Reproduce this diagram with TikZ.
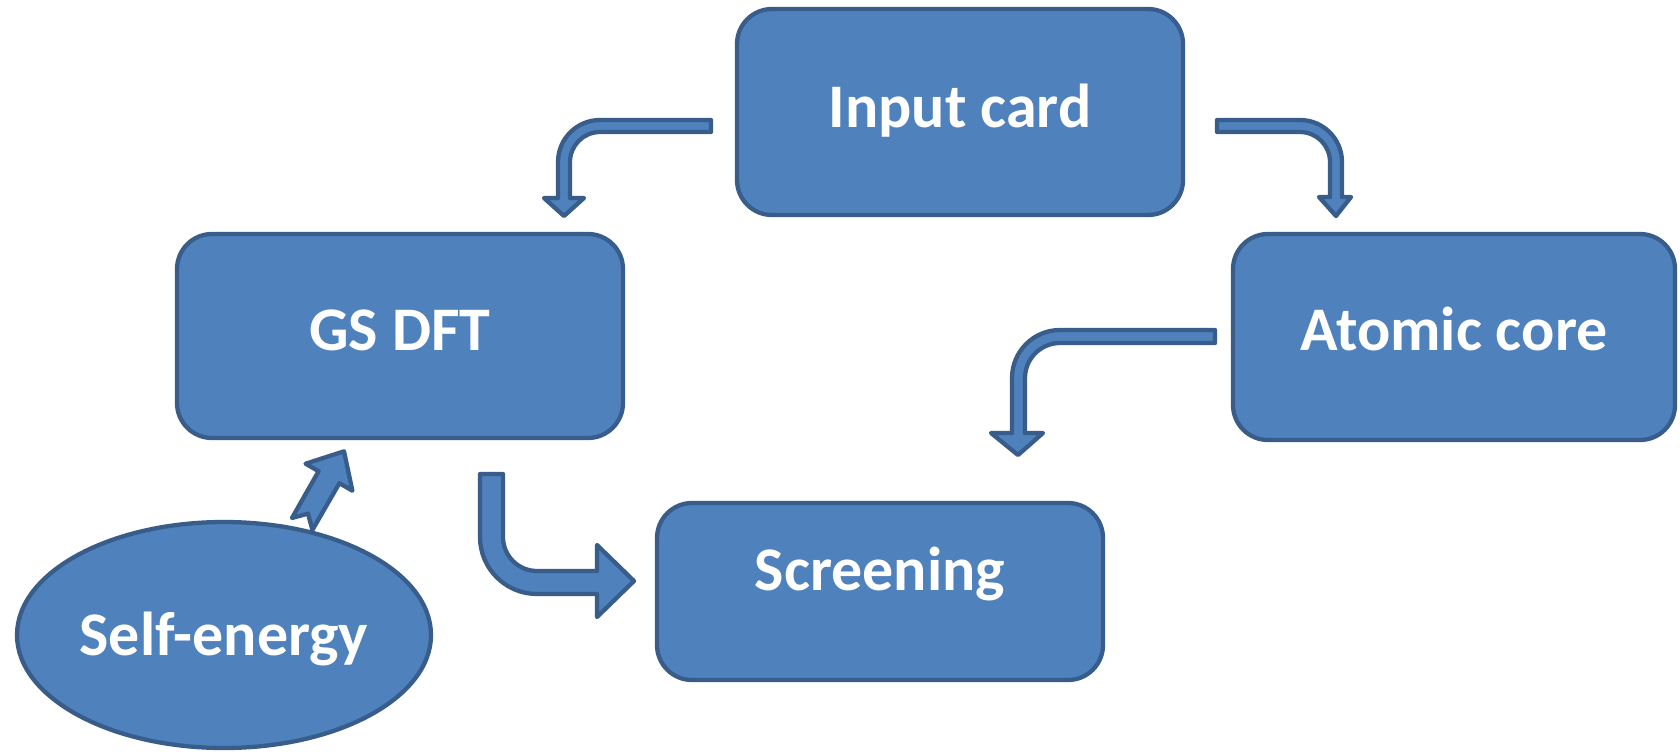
\documentclass[tikz,border=0pt]{standalone}
\usepackage{fontspec}
\setmainfont{Carlito}
\usetikzlibrary{shapes.geometric}
\definecolor{pfill}{HTML}{4F81BD}
\definecolor{pline}{HTML}{385D8A}
\tikzset{
  box/.style={draw=pline, fill=pfill, line width=4.3pt, rounded corners=35pt, inner sep=0pt},
  oval/.style={ellipse, draw=pline, fill=pfill, line width=4.3pt, inner sep=0pt},
  blockarrow/.style={draw=pline, fill=pfill, line width=4.3pt, line join=round},
  lbl/.style={text=white, font=\bfseries\fontsize{62}{70}\selectfont, anchor=base, inner sep=0pt}
}
\begin{document}
\begin{tikzpicture}[x=1pt,y=-1pt]
\useasboundingbox (0,0) rectangle (1680,752);

% shapes
\node[box, minimum width=446pt, minimum height=206pt] (input) at (960,112) {};
\node[box, minimum width=446pt, minimum height=204pt] (gs) at (400,336) {};
\node[box, minimum width=442pt, minimum height=206pt] (atomic) at (1454,337) {};
\node[box, minimum width=446pt, minimum height=177pt] (screen) at (880,591.5) {};
\node[oval, minimum width=414pt, minimum height=226pt] (self) at (224,635) {};

% labels
\node[lbl] (tinput) at (960,127) {Input card};
\node[lbl] (tgs) at (400,350) {GS DFT};
\node[lbl] (tatomic) at (1454,350) {Atomic core};
\node[lbl] (tscreen) at (880,590) {Screening};
\node[lbl] (tself) at (224,655) {Self-energy};

% Input card -> GS DFT
\draw[blockarrow] (711,120) -- (600,120) arc[start angle=270, end angle=180, radius=42]
  -- (558,198) -- (544,198) -- (564,216) -- (584,198) -- (570,198) -- (570,162)
  arc[start angle=180, end angle=270, radius=30] -- (711,132) -- cycle;

% Input card -> Atomic core
\draw[blockarrow] (1217,120) -- (1300,120) arc[start angle=270, end angle=360, radius=42]
  -- (1342,197) -- (1351,197) -- (1336,216) -- (1319,197) -- (1330,197) -- (1330,162)
  arc[start angle=0, end angle=-90, radius=30] -- (1217,132) -- cycle;

% Atomic core -> Screening
\draw[blockarrow] (1215,330) -- (1060,330) arc[start angle=270, end angle=180, radius=48]
  -- (1012,433) -- (991,433) -- (1018,455) -- (1043,433) -- (1025,433) -- (1025,378)
  arc[start angle=180, end angle=270, radius=35] -- (1215,343) -- cycle;

% GS DFT -> Screening
\draw[blockarrow] (480,474) -- (503,474) -- (503,537)
  arc[start angle=180, end angle=90, radius=34] -- (597,571) -- (597,545) -- (634,581)
  -- (597,617) -- (597,594) -- (537,594)
  arc[start angle=90, end angle=180, radius=57] -- cycle;

% Self-energy -> GS DFT
\draw[blockarrow] (292,518) -- (308,513.6) -- (312.4,530) -- (339.4,483.2) -- (352.4,490.7)
  -- (344,451.3) -- (305.6,463.7) -- (318.6,471.2) -- cycle;
\end{tikzpicture}
\end{document}
